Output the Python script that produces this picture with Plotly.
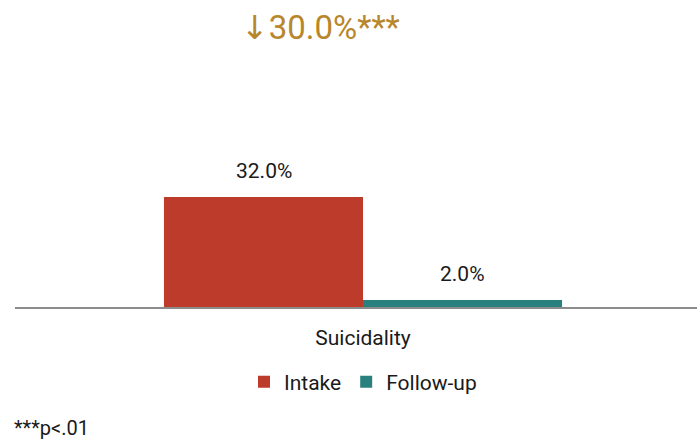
import plotly.graph_objects as go

categories = ["Suicidality"]
series_names = ["Intake", "Follow-up"]
intake = [32.0]
follow_up = [2.0]
change_arrow = "↓"
change_label = "30.0%***"
footnote = "***p<.01"

colors = ["#BD3B2B", "#2A807E"]
font = "Roboto, Arial, sans-serif"

fig = go.Figure()
for name, vals, col in zip(series_names, [intake, follow_up], colors):
    fig.add_trace(go.Bar(x=categories, y=vals, name=name, marker_color=col,
                         marker_line_width=0, hoverinfo="skip"))

# value labels above the bars
for i, vals in enumerate([intake, follow_up]):
    for cat, v in zip(categories, vals):
        fig.add_annotation(x=cat, y=v, xref="x", yref="y", text=f"{v:.1f}%",
                           showarrow=False, xshift=(i - 0.5) * 199, yshift=26,
                           yanchor="middle", font=dict(size=21, color="#1a1a1a"))

fig.add_annotation(x=0.436, y=1, xref="paper", yref="paper", yshift=33,
                   text=f"<span style='font-family:DejaVu Sans'>{change_arrow}</span>{change_label}",
                   showarrow=False, yanchor="middle",
                   font=dict(size=33, color="#B8862B"))

fig.add_annotation(x=-0.025, y=-0.49, xref="paper", yref="paper", text=footnote,
                   showarrow=False, xanchor="left", yanchor="middle",
                   font=dict(size=20, color="#1a1a1a"))

# baseline
fig.add_shape(type="line", xref="paper", yref="paper", x0=-0.021, x1=1.05, y0=-0.004, y1=-0.004,
              line=dict(color="#8c8c8c", width=2))

fig.update_layout(
    width=697, height=443,
    margin=dict(l=29, r=0, t=60, b=136),
    paper_bgcolor="white", plot_bgcolor="white",
    font=dict(family=font, size=21, color="#1a1a1a"),
    barmode="group", bargap=0.404, bargroupgap=0,
    legend=dict(orientation="h", x=0.5, xanchor="center", y=-0.304, yanchor="middle",
                font=dict(size=21), itemwidth=30, traceorder="normal"),
    showlegend=True,
)
fig.update_xaxes(showline=False, showgrid=False, ticks="", tickfont=dict(size=21),
                 ticklabelstandoff=16)
fig.update_yaxes(range=[0, 71.85], visible=False, showgrid=False, zeroline=False)

fig.write_html("out.html", config={"displayModeBar": False},
               post_script="document.body.style.margin='0';")
